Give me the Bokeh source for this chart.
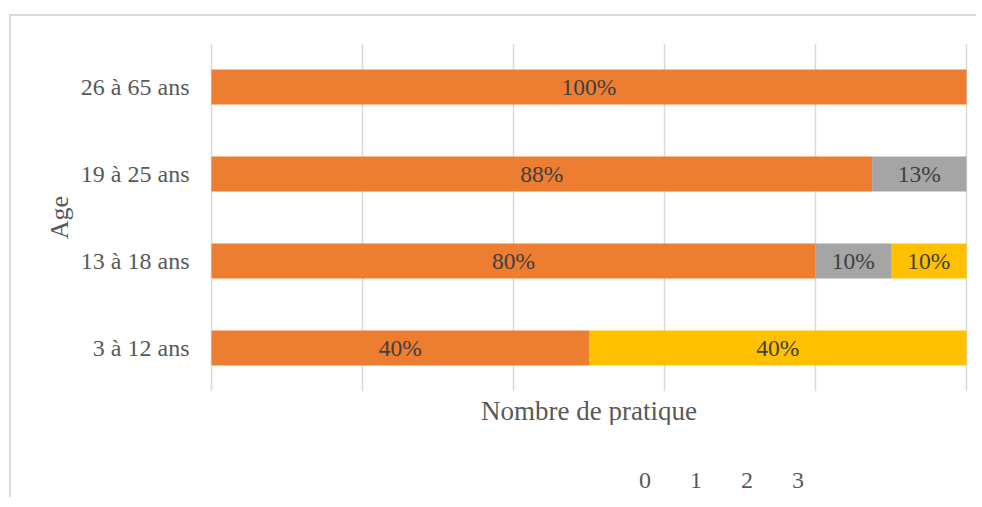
from bokeh.plotting import figure
from bokeh.layouts import column
from bokeh.models import ColumnDataSource, FactorRange, Range1d, Legend, LegendItem, FixedTicker, Title
from bokeh.core.properties import value
from bokeh.embed import file_html
from bokeh.resources import INLINE

# ---- data ----
categories = ["3 à 12 ans", "13 à 18 ans", "19 à 25 ans", "26 à 65 ans"]
series_names = ["0", "1", "2", "3"]
s0 = [0.0, 0.0, 0.0, 0.0]
s1 = [0.40, 0.80, 0.875, 1.00]
s2 = [0.0, 0.10, 0.125, 0.0]
s3 = [0.40, 0.10, 0.0, 0.0]
colors = ["#4472C4", "#ED7D31", "#A5A5A5", "#FFC000"]
x_ticks = [0, 0.2, 0.4, 0.6, 0.8, 1.0]

raw = [s0, s1, s2, s3]
totals = [sum(col) for col in zip(*raw)]
norm = [[v / t if t else 0 for v, t in zip(s, totals)] for s in raw]

FONT = "Liberation Serif"

p = figure(y_range=FactorRange(*categories, range_padding=0), x_range=Range1d(-0.004, 1.004),
           frame_width=759, frame_height=346,
           output_backend="svg", toolbar_location=None,
           min_border_left=197, min_border_top=27, min_border_right=9, min_border_bottom=0)
p.styles = {"margin-left": "9px", "margin-top": "14px",
            "border-top": "2px solid #d9d9d9", "border-left": "2px solid #d9d9d9"}
p.outline_line_color = None

data = {"cat": categories}
for n, s in zip(series_names, norm):
    data[n] = s
src = ColumnDataSource(data)
rends = p.hbar_stack(series_names, y="cat", height=0.4, color=colors, source=src, line_color=None)

# data labels
lx, ly, lt = [], [], []
for i, c in enumerate(categories):
    left = 0.0
    for k in range(4):
        w = norm[k][i]
        if raw[k][i] > 0:
            lx.append(left + w / 2)
            ly.append(c)
            lt.append("%d%%" % int(raw[k][i] * 100 + 0.5))
        left += w
p.text(x=lx, y=ly, text=lt, text_align="center", text_baseline="middle",
       text_font=value(FONT), text_font_size="23.5px", text_color="#404040")

# axes
p.xaxis.ticker = FixedTicker(ticks=x_ticks)
p.xaxis.visible = False
p.xgrid.ticker = FixedTicker(ticks=x_ticks)

p.yaxis.major_tick_line_color = None
p.yaxis.minor_tick_line_color = None
p.yaxis.axis_line_color = None
p.yaxis.major_label_text_font = FONT
p.yaxis.major_label_text_font_size = "24px"
p.yaxis.major_label_text_color = "#595959"
p.yaxis.major_label_standoff = 13
p.yaxis.axis_label = "Age"
p.yaxis.axis_label_text_font = FONT
p.yaxis.axis_label_text_font_style = "normal"
p.yaxis.axis_label_text_font_size = "26px"
p.yaxis.axis_label_text_color = "#595959"
p.yaxis.axis_label_standoff = 4

p.xgrid.grid_line_color = "#d9d9d9"
p.xgrid.grid_line_width = 1.5
p.ygrid.grid_line_color = None

xtitle = Title(text="Nombre de pratique", align="center", text_font=FONT,
               text_font_size="27px", text_font_style="normal", text_color="#595959",
               standoff=4, offset=0)
p.add_layout(xtitle, "below")

# ---- legend strip (separate small figure so the legend is not clipped) ----
p2 = figure(width=965, height=72, x_range=Range1d(0, 1), y_range=Range1d(0, 1),
            output_backend="svg", toolbar_location=None,
            min_border_left=0, min_border_right=0, min_border_top=0, min_border_bottom=0)
p2.styles = {"margin-left": "9px", "border-left": "2px solid #d9d9d9"}
p2.outline_line_color = None
p2.xaxis.visible = False
p2.yaxis.visible = False
p2.xgrid.visible = False
p2.ygrid.visible = False

proxies = []
for n, c in zip(series_names, colors):
    r = p2.hbar(y=[], right=[], left=[], height=0.4, fill_color=c, line_color=None)
    proxies.append(r)

legend = Legend(items=[LegendItem(label=n, renderers=[r]) for n, r in zip(series_names, proxies)],
                orientation="horizontal", location=(414, 3),
                label_text_font=FONT, label_text_font_size="24px", label_text_color="#595959",
                label_height=28, glyph_width=12, glyph_height=12, label_standoff=5, spacing=14,
                border_line_color=None, background_fill_alpha=0, padding=4, margin=0)
p2.add_layout(legend, "center")

layout = column(p, p2, spacing=0)

open("out.html", "w").write(file_html(layout, INLINE))
